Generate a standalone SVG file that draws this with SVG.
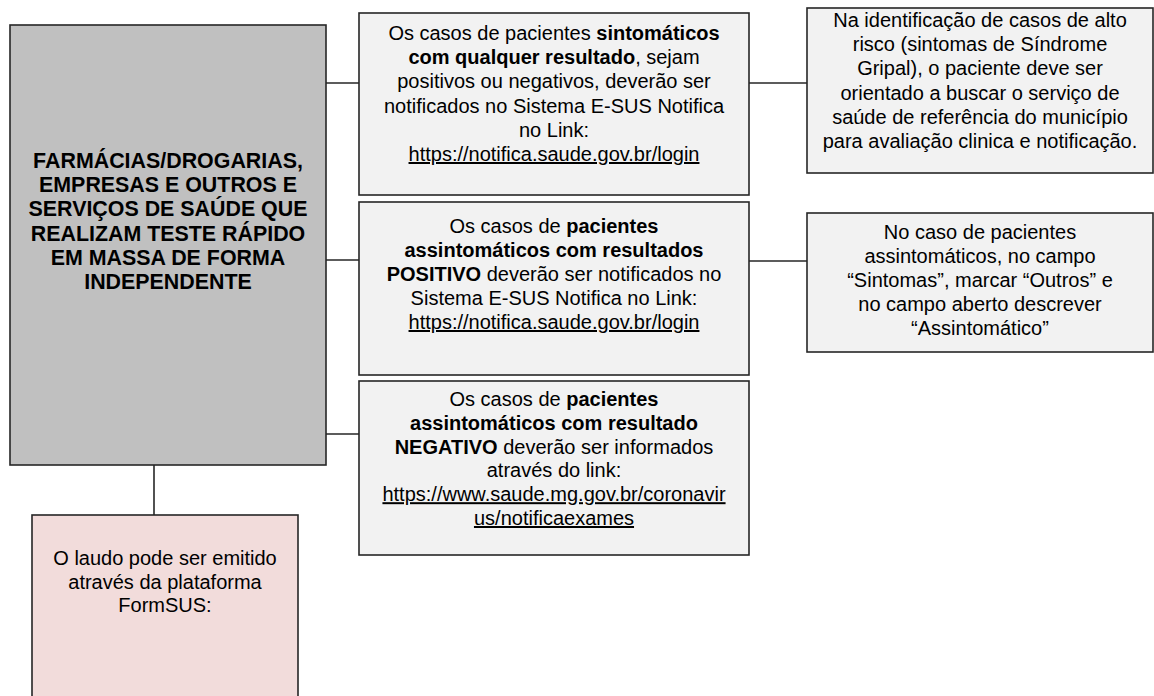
<svg xmlns="http://www.w3.org/2000/svg" width="1154" height="696" viewBox="0 0 1154 696">
<style>
.box{stroke:#262626;stroke-width:1.6}
.main{fill:#c0c0c0}
.lt{fill:#f2f2f2}
.pk{fill:#f2dcdb}
.t{font-family:"Liberation Sans",Arial,sans-serif;font-size:20px;fill:#000;text-anchor:middle}
.tb{font-family:"Liberation Sans",Arial,sans-serif;font-size:21.4px;font-weight:bold;fill:#000;text-anchor:middle}
.b{font-weight:bold}
.u{text-decoration:underline}
.c{stroke:#262626;stroke-width:1.6;fill:none}
</style>
<rect width="1154" height="696" fill="#fff"/>
<g id="connectors">
<line class="c" x1="326" y1="83" x2="359" y2="83"/>
<line class="c" x1="326" y1="260" x2="359" y2="260"/>
<line class="c" x1="326" y1="434" x2="359" y2="434"/>
<line class="c" x1="749" y1="83" x2="807" y2="83"/>
<line class="c" x1="749" y1="261" x2="807" y2="261"/>
<line class="c" x1="154" y1="465" x2="154" y2="515"/>
</g>
<g id="main">
<rect class="box main" x="10" y="25" width="316" height="440"/>
<text class="tb"><tspan x="168" y="168">FARMÁCIAS/DROGARIAS,</tspan><tspan x="168" y="192.2">EMPRESAS E OUTROS E</tspan><tspan x="168" y="216.4">SERVIÇOS DE SAÚDE QUE</tspan><tspan x="168" y="240.6">REALIZAM TESTE RÁPIDO</tspan><tspan x="168" y="264.8">EM MASSA DE FORMA</tspan><tspan x="168" y="289">INDEPENDENTE</tspan></text>
</g>
<g id="sintomaticos">
<rect class="box lt" x="359" y="13" width="390" height="182"/>
<text class="t"><tspan x="554" y="40">Os casos de pacientes <tspan class="b">sintomáticos</tspan></tspan><tspan x="554" y="64.2"><tspan class="b">com qualquer resultado</tspan>, sejam</tspan><tspan x="554" y="88.4">positivos ou negativos, deverão ser</tspan><tspan x="554" y="112.6">notificados no Sistema E-SUS Notifica</tspan><tspan x="554" y="136.8">no Link:</tspan><tspan x="554" y="161" class="u">https://notifica.saude.gov.br/login</tspan></text>
</g>
<g id="positivo">
<rect class="box lt" x="359" y="202" width="390" height="173"/>
<text class="t"><tspan x="554" y="233">Os casos de <tspan class="b">pacientes</tspan></tspan><tspan x="554" y="257" class="b">assintomáticos com resultados</tspan><tspan x="554" y="281"><tspan class="b">POSITIVO</tspan> deverão ser notificados no</tspan><tspan x="554" y="305">Sistema E-SUS Notifica no Link:</tspan><tspan x="554" y="329" class="u">https://notifica.saude.gov.br/login</tspan></text>
</g>
<g id="negativo">
<rect class="box lt" x="359" y="381" width="390" height="174"/>
<text class="t"><tspan x="554" y="406">Os casos de <tspan class="b">pacientes</tspan></tspan><tspan x="554" y="429.8" class="b">assintomáticos com resultado</tspan><tspan x="554" y="453.6"><tspan class="b">NEGATIVO</tspan> deverão ser informados</tspan><tspan x="554" y="477.4">através do link:</tspan><tspan x="554" y="501.2" class="u">https://www.saude.mg.gov.br/coronavir</tspan><tspan x="554" y="525" class="u">us/notificaexames</tspan></text>
</g>
<g id="alto-risco">
<rect class="box lt" x="807" y="8" width="346" height="165"/>
<text class="t"><tspan x="980" y="27">Na identificação de casos de alto</tspan><tspan x="980" y="51.2">risco (sintomas de Síndrome</tspan><tspan x="980" y="75.4">Gripal), o paciente deve ser</tspan><tspan x="980" y="99.6">orientado a buscar o serviço de</tspan><tspan x="980" y="123.8">saúde de referência do município</tspan><tspan x="980" y="148">para avaliação clinica e notificação.</tspan></text>
</g>
<g id="assintomatico">
<rect class="box lt" x="807" y="213" width="346" height="139"/>
<text class="t"><tspan x="980" y="239">No caso de pacientes</tspan><tspan x="980" y="263">assintomáticos, no campo</tspan><tspan x="980" y="287">“Sintomas”, marcar “Outros” e</tspan><tspan x="980" y="311">no campo aberto descrever</tspan><tspan x="980" y="335">“Assintomático”</tspan></text>
</g>
<g id="laudo">
<rect class="box pk" x="32" y="515" width="266" height="200"/>
<text class="t"><tspan x="165" y="565">O laudo pode ser emitido</tspan><tspan x="165" y="588.5">através da plataforma</tspan><tspan x="165" y="612">FormSUS:</tspan></text>
</g>
</svg>
